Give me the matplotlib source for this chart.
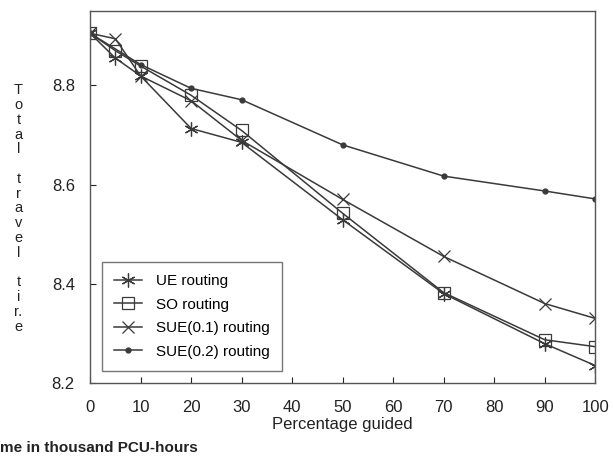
import matplotlib.pyplot as plt

plt.rcParams['font.family'] = ['Liberation Sans', 'DejaVu Sans']

guided = [0, 5, 10, 20, 30, 50, 70, 90, 100]
ue = [8.905, 8.855, 8.819, 8.713, 8.685, 8.529, 8.380, 8.279, 8.235]
so = [8.905, 8.870, 8.839, 8.780, 8.709, 8.542, 8.382, 8.287, 8.273]
sue01 = [8.905, 8.894, 8.819, 8.769, 8.689, 8.570, 8.455, 8.360, 8.330]
guided_02 = [0, 10, 20, 30, 50, 70, 90, 100]
sue02 = [8.905, 8.842, 8.794, 8.771, 8.680, 8.617, 8.587, 8.571]

xticks = [0, 10, 20, 30, 40, 50, 60, 70, 80, 90, 100]
yticks = [8.2, 8.4, 8.6, 8.8]

fig = plt.figure(figsize=(6.13, 4.58), dpi=100)
ax = fig.add_axes([0.147, 0.164, 0.824, 0.812])

c = '#3a3a3a'
ax.plot(guided, ue, color=c, lw=1.1, marker=(6, 2, 0), ms=10, mew=0.9, label='UE routing')
ax.plot(guided, so, color=c, lw=1.1, marker='s', ms=9, mfc='none', mew=0.9, label='SO routing')
ax.plot(guided, sue01, color=c, lw=1.1, marker='x', ms=9, mew=0.9, label='SUE(0.1) routing')
ax.plot(guided_02, sue02, color=c, lw=1.1, marker='o', ms=3.5, label='SUE(0.2) routing')

ax.set_xlim(0, 100)
ax.set_ylim(8.2, 8.95)
ax.set_xticks(xticks)
ax.set_yticks(yticks)
ax.set_yticklabels(['8.2', '8.4', '8.6', '8.8'])
ax.tick_params(direction='in', length=4, labelsize=12, colors='#222222')
ax.tick_params(axis='x', pad=12)
ax.tick_params(axis='y', pad=11)
for s in ax.spines.values():
    s.set_color('#555555')
    s.set_linewidth(1.0)

ax.set_xlabel('Percentage guided', fontsize=12, color='#222222', labelpad=2)

# stacked vertical y label
letters = 'T o t a l _ t r a v e l _ t i r. e'.split(' ')
ylab = '\n'.join('' if ch == '_' else ch for ch in letters)
fig.text(0.03, 0.545, ylab, fontsize=10.5, ha='center', va='center',
         linespacing=1.07, color='#222222')
fig.text(0.0, 0.022, 'me in thousand PCU-hours', fontsize=11, ha='left',
         va='center', color='#222222', fontweight='bold')

leg = ax.legend(loc='lower left', bbox_to_anchor=(0.024, 0.032), fontsize=11,
                frameon=True, fancybox=False, edgecolor='#555555',
                handlelength=1.8, labelspacing=0.62, borderpad=0.8,
                handletextpad=0.9, borderaxespad=0)
leg.get_frame().set_linewidth(1.0)

fig.savefig('out.png', dpi=100)
